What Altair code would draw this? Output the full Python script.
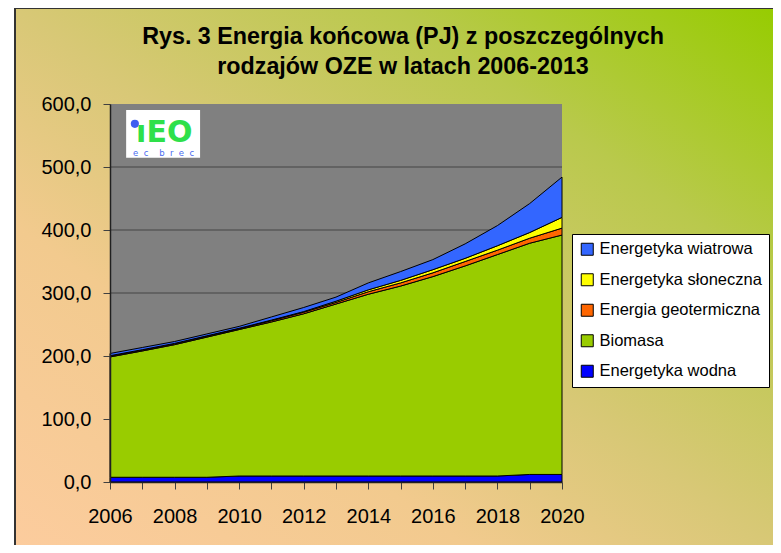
import altair as alt
import pandas as pd

years = list(range(2006, 2021))
series_names = ["Energetyka wiatrowa", "Energetyka słoneczna", "Energia geotermiczna",
                "Biomasa", "Energetyka wodna"]
series_colors = ["#3366FF", "#FFFF00", "#FF6600", "#99CC00", "#0000FF"]

wodna = [7.5, 7.5, 7.5, 7.5, 9.5, 9.5, 9.5, 9.5, 9.5, 9.5, 9.5, 9.5, 9.5, 12, 12]
biomasa = [191, 200.5, 210.5, 222.5, 232.5, 244.5, 257.5, 273, 288.5, 301.5, 316.5, 333.5, 351.5, 367, 380]
geotermiczna = [1.5, 1.5, 1.5, 1.5, 1.5, 2, 2.5, 2.5, 4, 5, 6, 7, 7, 8, 11]
sloneczna = [0.5, 0.5, 0.5, 0.5, 0.5, 1, 1, 2, 3, 4, 5, 5, 7, 9, 17]
wiatrowa = [3.5, 3.5, 3, 3, 3, 5, 6.5, 6.5, 11, 14, 16, 23, 32, 46, 64]

grid_values = [100, 200, 300, 400, 500]
y_ticks = [0, 100, 200, 300, 400, 500, 600]

title_line1 = "Rys. 3 Energia końcowa (PJ) z poszczególnych"
title_line2 = "rodzajów OZE w latach 2006-2013"

stack = [("Energetyka wodna", wodna), ("Biomasa", biomasa),
         ("Energia geotermiczna", geotermiczna), ("Energetyka słoneczna", sloneczna),
         ("Energetyka wiatrowa", wiatrowa)]
rows = []
for idx, (name, vals) in enumerate(stack):
    for yr, v in zip(years, vals):
        rows.append({"year": yr, "series": name, "value": v, "idx": idx})
df = pd.DataFrame(rows)

W, H = 452, 378
PAD = {"left": 102, "top": 96, "right": 211, "bottom": 63}
x_scale = alt.Scale(domain=[2006, 2020], nice=False, zero=False)
y_scale = alt.Scale(domain=[0, 600], nice=False)

x_axis = alt.Axis(values=years, title=None, grid=False, format="d",
                  labelExpr="datum.value % 2 == 0 ? datum.label : ''",
                  labelFont="Liberation Sans", labelFontSize=20, labelColor="black",
                  labelPadding=17, tickSize=7, tickColor="#404040", domainColor="#202020",
                  domainWidth=1.5, labelFlush=False, labelOverlap=False, zindex=1)
y_axis = alt.Axis(values=y_ticks, title=None, grid=False,
                  labelExpr="replace(format(datum.value, '.1f'), '.', ',')",
                  labelFont="Liberation Sans", labelFontSize=20, labelColor="black",
                  labelPadding=12, tickSize=7, tickColor="#404040", domainColor="#202020",
                  domainWidth=1.5, zindex=1)

one = pd.DataFrame({"a": [0]})

bg = alt.Chart(one).mark_rect(
    fill=alt.LinearGradient(
        gradient="linear", x1=0, y1=1, x2=1, y2=0,
        stops=[alt.GradientStop(offset=0, color="#FCCC9E"),
               alt.GradientStop(offset=0.3, color="#F2CA8E"),
               alt.GradientStop(offset=0.5, color="#D8C876"),
               alt.GradientStop(offset=0.75, color="#B9C94C"),
               alt.GradientStop(offset=1, color="#96CC00")]),
    stroke="#333333", strokeWidth=2,
).encode(x=alt.value(-95), x2=alt.value(W + PAD["right"] + 5),
         y=alt.value(-96), y2=alt.value(H + PAD["bottom"] + 5))

plotbg = alt.Chart(one).mark_rect(fill="#808080").encode(
    x=alt.value(0), x2=alt.value("width"), y=alt.value(0), y2=alt.value("height"))

grid = alt.Chart(pd.DataFrame({"g": grid_values})).mark_rule(color="#454545", strokeWidth=1.2).encode(
    y=alt.Y("g:Q", scale=y_scale, axis=y_axis), x=alt.value(0), x2=alt.value("width"))

areas = alt.Chart(df).mark_area(stroke="black", strokeWidth=1, interpolate="linear").encode(
    x=alt.X("year:Q", scale=x_scale, axis=x_axis),
    y=alt.Y("value:Q", stack="zero", scale=y_scale, axis=y_axis),
    color=alt.Color("series:N", scale=alt.Scale(domain=series_names, range=series_colors),
                    legend=alt.Legend(title=None, orient="none", legendX=462, legendY=130,
                                      fillColor="white", strokeColor="black", padding=7,
                                      symbolType="square", symbolSize=144,
                                      symbolStrokeColor="black", symbolStrokeWidth=1,
                                      labelFont="Liberation Sans", labelFontSize=16.5,
                                      labelColor="black", labelOffset=4, rowPadding=13.5,
                                      labelLimit=300, zindex=1)),
    order=alt.Order("idx:Q", sort="ascending"),
)

logo_box = alt.Chart(pd.DataFrame({"x1": [2006.5], "x2": [2008.79], "y1": [514.5], "y2": [590.5]})).mark_rect(
    fill="white").encode(
    x=alt.X("x1:Q", scale=x_scale, axis=x_axis), x2="x2:Q",
    y=alt.Y("y1:Q", scale=y_scale, axis=y_axis), y2="y2:Q")

logo_text = alt.Chart(pd.DataFrame({"x": [2007.68], "y": [540], "t": ["ıEO"]})).mark_text(
    font="DejaVu Sans", fontWeight="bold", fontSize=30, color="#2EE04A", baseline="alphabetic").encode(
    x=alt.X("x:Q", scale=x_scale, axis=x_axis), y=alt.Y("y:Q", scale=y_scale, axis=y_axis), text="t:N")

logo_dot = alt.Chart(pd.DataFrame({"x": [2006.77], "y": [568.5]})).mark_circle(
    color="#3F5FF0", opacity=1, size=66).encode(
    x=alt.X("x:Q", scale=x_scale, axis=x_axis), y=alt.Y("y:Q", scale=y_scale, axis=y_axis))

logo_sub = alt.Chart(pd.DataFrame({"x": [2007.66], "y": [518],
                                   "t": ["e\u00a0\u00a0c\u00a0\u00a0\u00a0\u00a0b\u00a0\u00a0r\u00a0\u00a0e\u00a0\u00a0c"]})).mark_text(
    font="DejaVu Sans", fontSize=8.5, color="#4A6CF0", baseline="alphabetic").encode(
    x=alt.X("x:Q", scale=x_scale, axis=x_axis), y=alt.Y("y:Q", scale=y_scale, axis=y_axis), text="t:N")

title_style = dict(font="Liberation Sans", fontWeight="bold", fontSize=23.3, color="black",
                   align="center", baseline="alphabetic")
t1 = alt.Chart(pd.DataFrame({"t": [title_line1]})).mark_text(**title_style).encode(
    x=alt.value(293), y=alt.value(-60), text="t:N")
t2 = alt.Chart(pd.DataFrame({"t": [title_line2]})).mark_text(**title_style).encode(
    x=alt.value(293), y=alt.value(-30), text="t:N")

chart = alt.layer(bg, plotbg, grid, areas, logo_box, logo_text, logo_dot, logo_sub, t1, t2).properties(
    width=W, height=H,
    autosize=alt.AutoSizeParams(type="none"),
    padding=PAD,
).configure_view(stroke=None)

chart.save("out.html", embed_options={"renderer": "svg", "actions": False})
